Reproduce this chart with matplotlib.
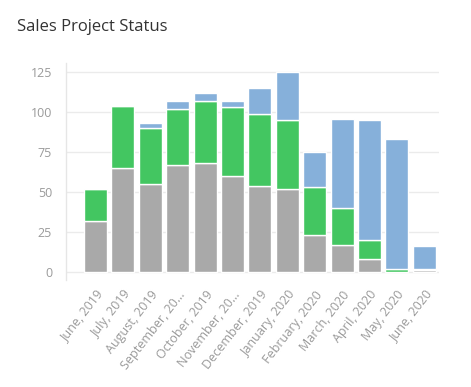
import matplotlib
matplotlib.use("Agg")
import matplotlib.pyplot as plt
import numpy as np

plt.rcParams['font.family'] = ['Open Sans', 'DejaVu Sans']

categories = ["June, 2019", "July, 2019", "August, 2019", "September, 20...", "October, 2019",
              "November, 20...", "December, 2019", "January, 2020", "February, 2020",
              "March, 2020", "April, 2020", "May, 2020", "June, 2020"]
gray_vals = [32, 65, 55, 67, 68, 60, 54, 52, 23, 17, 8, 0, 1]
green_vals = [20, 39, 35, 35, 39, 43, 45, 43, 30, 23, 12, 2, 1]
blue_vals = [0, 0, 3, 5, 5, 4, 16, 30, 22, 56, 75, 81, 14]
yticks = [0, 25, 50, 75, 100, 125]

c_gray = '#a9a9a9'
c_green = '#43c661'
c_blue = '#86b0da'

fig = plt.figure(figsize=(4.71, 3.87), dpi=100)
W, H = 471, 387
left, right, top, bottom = 66, 439, 63, 280
ax = fig.add_axes([left / W, 1 - bottom / H, (right - left) / W, (bottom - top) / H])

x = np.arange(len(categories))
g = np.array(gray_vals)
gr = np.array(green_vals)
b = np.array(blue_vals)
w = 0.84
kw = dict(width=w, edgecolor='white', linewidth=1, zorder=3)
ax.bar(x, g, color=c_gray, **kw)
ax.bar(x, gr, bottom=g, color=c_green, **kw)
ax.bar(x, b, bottom=g + gr, color=c_blue, **kw)

ax.set_xlim(-1.08, 12.54)
ax.set_ylim(-5.2, 130.8)
ax.set_yticks(yticks)
for yv in yticks:
    ax.axhline(yv, color='#ebebeb', linewidth=1, zorder=1)
ax.set_xticks(x)
ax.set_xticklabels(categories, rotation=52, ha='right', va='top', rotation_mode='anchor')
ax.tick_params(axis='both', length=0, colors='#9a9a9a', labelsize=9)
ax.tick_params(axis='y', pad=10)
ax.tick_params(axis='x', pad=6)
for s in ['top', 'right', 'bottom']:
    ax.spines[s].set_visible(False)
ax.spines['left'].set_color('#e6e6e6')
ax.spines['left'].set_linewidth(1)

fig.text(17 / W, 1 - 27 / H, "Sales Project Status", fontsize=12, color='#333333',
         ha='left', va='center')

fig.savefig('out.png', dpi=100)
